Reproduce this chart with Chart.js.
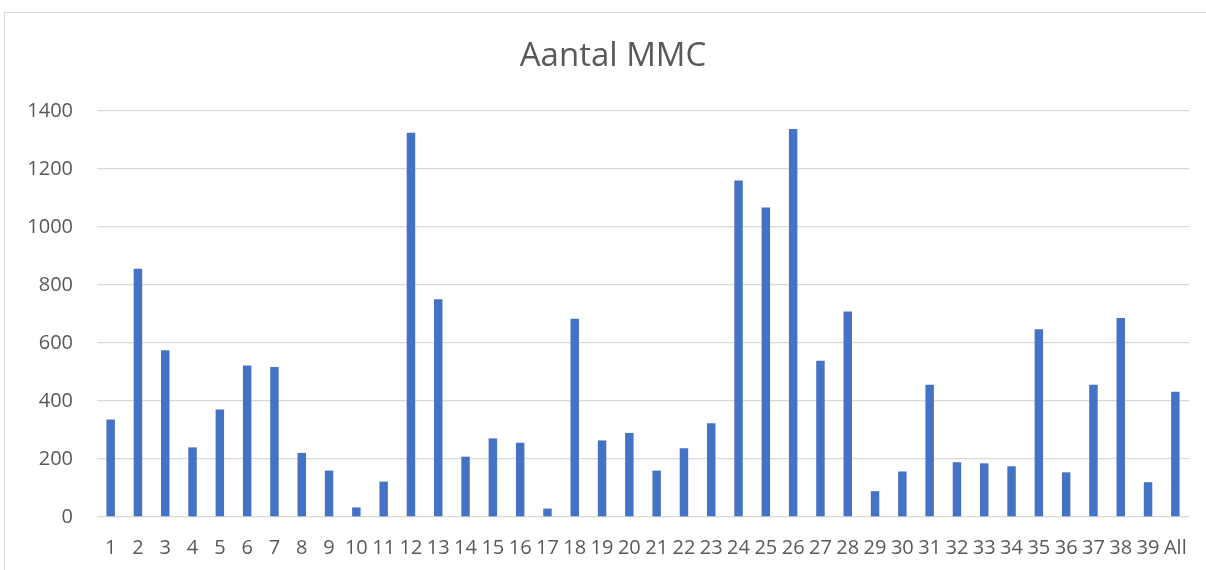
<!DOCTYPE html>
<html>
<head>
<meta charset="utf-8">
<title>Aantal MMC</title>
<script src="https://cdn.jsdelivr.net/npm/chart.js@4.4.1/dist/chart.umd.min.js"></script>
<style>
    html, body { margin: 0; padding: 0; background: #ffffff; overflow: hidden; }
    #wrap { position: relative; width: 1206px; height: 570px; }
    #frame {
        position: absolute; left: 4px; top: 12px; right: -10px; bottom: -10px;
        border-left: 1px solid #d9d9d9; border-top: 1px solid #d9d9d9;
    }
    #chart { position: absolute; left: 0; top: 0; }
</style>
</head>
<body>
<div id="wrap">
    <div id="frame"></div>
    <canvas id="chart" width="1206" height="570"></canvas>
</div>
<script>
// categories on the x axis
const categories = ['1', '2', '3', '4', '5', '6', '7', '8', '9', '10',
    '11', '12', '13', '14', '15', '16', '17', '18', '19', '20',
    '21', '22', '23', '24', '25', '26', '27', '28', '29', '30',
    '31', '32', '33', '34', '35', '36', '37', '38', '39', 'All'];

// Aantal MMC per category
const aantalMMC = [336, 856, 575, 240, 371, 522, 517, 221, 160, 33,
    122, 1325, 751, 208, 271, 256, 29, 684, 264, 290,
    160, 237, 323, 1160, 1067, 1338, 539, 709, 89, 157,
    456, 189, 185, 175, 647, 154, 456, 686, 120, 432];

// y axis ticks
const yMin = 0;
const yMax = 1400;
const yStep = 200;

const chartTitle = 'Aantal MMC';
const textColor = '#595959';
const gridColor = '#d9d9d9';

// title drawn by hand: the original one sits a bit right of the canvas centre
const titlePlugin = {
    id: 'offsetTitle',
    afterDraw(chart) {
        const ctx = chart.ctx;
        ctx.save();
        ctx.font = '33px "Open Sans"';
        ctx.fillStyle = textColor;
        ctx.textAlign = 'center';
        ctx.textBaseline = 'middle';
        ctx.fillText(chartTitle, 613, 57);
        ctx.restore();
    }
};

document.addEventListener("DOMContentLoaded", function () {
    const ctx = document.getElementById('chart');
    new Chart(ctx, {
        type: 'bar',
        data: {
            labels: categories,
            datasets: [{
                label: chartTitle,
                data: aantalMMC,
                backgroundColor: '#4472c4',
                borderWidth: 0,
                barPercentage: 0.31,
                categoryPercentage: 1.0
            }]
        },
        options: {
            responsive: false,
            animation: false,
            layout: {padding: {left: 0, right: 17, top: 111, bottom: 0}},
            plugins: {
                legend: {display: false},
                tooltip: {enabled: false},
                title: {display: false}
            },
            scales: {
                x: {
                    grid: {display: false, drawTicks: false},
                    border: {display: false},
                    ticks: {
                        color: textColor,
                        font: {family: 'Open Sans', size: 20},
                        padding: 19,
                        autoSkip: false,
                        maxRotation: 0,
                        minRotation: 0
                    },
                    afterFit: function (scale) { scale.height = 53; }
                },
                y: {
                    min: yMin,
                    max: yMax,
                    grid: {color: gridColor, lineWidth: 1.3, drawTicks: false},
                    border: {display: false},
                    ticks: {
                        stepSize: yStep,
                        color: textColor,
                        font: {family: 'Open Sans', size: 20},
                        padding: 24,
                        callback: function (value) { return String(value); }
                    },
                    afterFit: function (scale) { scale.width = 97; }
                }
            }
        },
        plugins: [titlePlugin]
    });
});
</script>
</body>
</html>
